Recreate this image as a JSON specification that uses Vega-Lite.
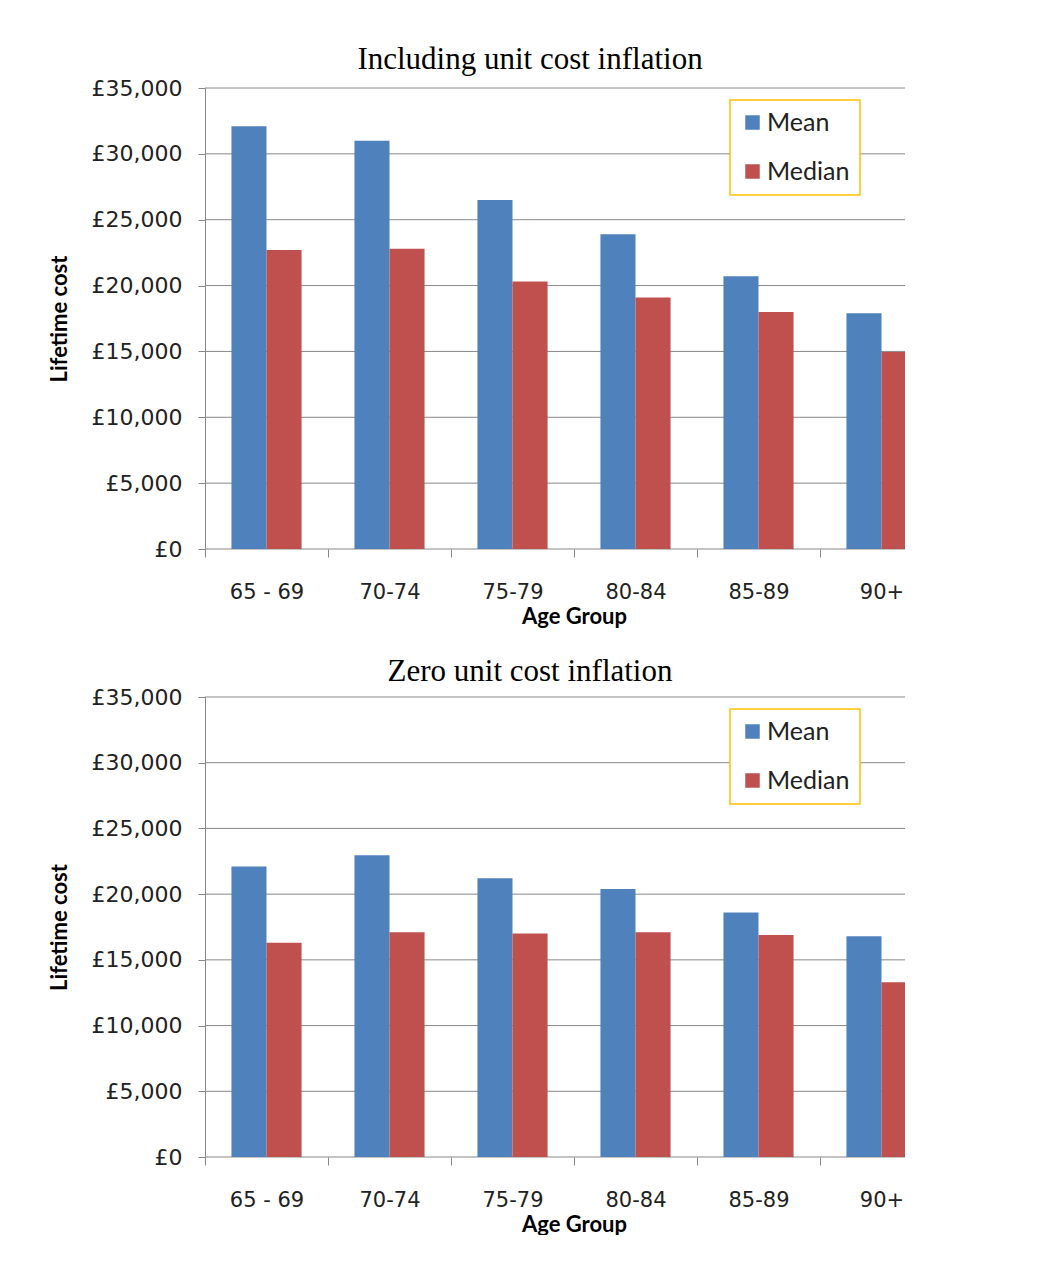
{
  "$schema": "https://vega.github.io/schema/vega-lite/v6.json",
  "background": "white",
  "padding": {"left": 48, "top": 44, "right": 0, "bottom": 0},
  "config": {
    "view": {"stroke": null},
    "concat": {"spacing": 29},
    "title": {"font": "Liberation Serif", "fontSize": 31, "fontWeight": "normal", "color": "black", "anchor": "middle", "dx": -25, "offset": 1},
    "axis": {
      "labelFont": "DejaVu Sans", "labelFontSize": 21, "labelColor": "#222222",
      "titleFont": "Lato", "titleFontSize": 22, "titleFontWeight": "bold", "titleColor": "black",
      "domainColor": "#888888", "tickColor": "#888888"
    },
    "legend": {
      "orient": "none", "legendX": 525, "legendY": 12, "title": null,
      "strokeColor": "#FFC000", "strokeWidth": 1.5, "padding": 10, "fillColor": "white",
      "labelFont": "Lato", "labelFontSize": 25, "labelColor": "#222222", "labelOffset": 2,
      "symbolType": "square", "symbolSize": 210, "symbolStrokeWidth": 0, "rowPadding": 23
    }
  },
  "resolve": {"legend": {"color": "independent"}},
  "datasets": {
    "grid": [{"v": 0}, {"v": 5000}, {"v": 10000}, {"v": 15000}, {"v": 20000}, {"v": 25000}, {"v": 30000}, {"v": 35000}],
    "inc": [
      {"age": "65 - 69", "stat": "Mean", "cost": 32100},
      {"age": "65 - 69", "stat": "Median", "cost": 22700},
      {"age": "70-74", "stat": "Mean", "cost": 31000},
      {"age": "70-74", "stat": "Median", "cost": 22800},
      {"age": "75-79", "stat": "Mean", "cost": 26500},
      {"age": "75-79", "stat": "Median", "cost": 20300},
      {"age": "80-84", "stat": "Mean", "cost": 23900},
      {"age": "80-84", "stat": "Median", "cost": 19100},
      {"age": "85-89", "stat": "Mean", "cost": 20700},
      {"age": "85-89", "stat": "Median", "cost": 18000},
      {"age": "90+", "stat": "Mean", "cost": 17900},
      {"age": "90+", "stat": "Median", "cost": 14950}
    ],
    "zero": [
      {"age": "65 - 69", "stat": "Mean", "cost": 22100},
      {"age": "65 - 69", "stat": "Median", "cost": 16300},
      {"age": "70-74", "stat": "Mean", "cost": 22950},
      {"age": "70-74", "stat": "Median", "cost": 17100},
      {"age": "75-79", "stat": "Mean", "cost": 21200},
      {"age": "75-79", "stat": "Median", "cost": 17000},
      {"age": "80-84", "stat": "Mean", "cost": 20400},
      {"age": "80-84", "stat": "Median", "cost": 17100},
      {"age": "85-89", "stat": "Mean", "cost": 18600},
      {"age": "85-89", "stat": "Median", "cost": 16900},
      {"age": "90+", "stat": "Mean", "cost": 16800},
      {"age": "90+", "stat": "Median", "cost": 13300}
    ]
  },
  "vconcat": [
    {
      "title": "Including unit cost inflation",
      "width": 700, "height": 461,
      "layer": [
        {
          "data": {"name": "grid"},
          "mark": {"type": "rule", "color": "#888888", "strokeWidth": 1},
          "encoding": {"y": {"field": "v", "type": "quantitative"}}
        },
        {
          "data": {"name": "inc"},
          "mark": {"type": "bar", "clip": true},
          "encoding": {
            "x": {"field": "age", "type": "nominal", "sort": null, "title": "Age Group",
              "scale": {"range": [0, 738], "paddingInner": 0.43, "paddingOuter": 0.215},
              "axis": {"labelAngle": 0, "domain": false, "tickSize": 8, "tickOffset": -61.5, "labelOffset": 61.5, "labelPadding": 24, "titlePadding": 4}},
            "xOffset": {"field": "stat", "type": "nominal", "sort": ["Mean", "Median"]},
            "y": {"field": "cost", "type": "quantitative", "title": "Lifetime cost",
              "scale": {"domain": [0, 35000]},
              "axis": {"grid": false, "labelFontSize": 22, "values": [0, 5000, 10000, 15000, 20000, 25000, 30000, 35000], "labelExpr": "'£' + format(datum.value, ',')", "tickSize": 7, "labelPadding": 16, "titlePadding": 20}},
            "color": {"field": "stat", "type": "nominal", "scale": {"domain": ["Mean", "Median"], "range": ["#4F81BD", "#C0504D"]}}
          }
        }
      ]
    },
    {
      "title": {"text": "Zero unit cost inflation", "offset": -2},
      "width": 700, "height": 460,
      "layer": [
        {
          "data": {"name": "grid"},
          "mark": {"type": "rule", "color": "#888888", "strokeWidth": 1},
          "encoding": {"y": {"field": "v", "type": "quantitative"}}
        },
        {
          "data": {"name": "zero"},
          "mark": {"type": "bar", "clip": true},
          "encoding": {
            "x": {"field": "age", "type": "nominal", "sort": null, "title": "Age Group",
              "scale": {"range": [0, 738], "paddingInner": 0.43, "paddingOuter": 0.215},
              "axis": {"labelAngle": 0, "domain": false, "tickSize": 8, "tickOffset": -61.5, "labelOffset": 61.5, "labelPadding": 24, "titlePadding": 4}},
            "xOffset": {"field": "stat", "type": "nominal", "sort": ["Mean", "Median"]},
            "y": {"field": "cost", "type": "quantitative", "title": "Lifetime cost",
              "scale": {"domain": [0, 35000]},
              "axis": {"grid": false, "labelFontSize": 22, "values": [0, 5000, 10000, 15000, 20000, 25000, 30000, 35000], "labelExpr": "'£' + format(datum.value, ',')", "tickSize": 7, "labelPadding": 16, "titlePadding": 20}},
            "color": {"field": "stat", "type": "nominal", "scale": {"domain": ["Mean", "Median"], "range": ["#4F81BD", "#C0504D"]}}
          }
        }
      ]
    }
  ]
}
